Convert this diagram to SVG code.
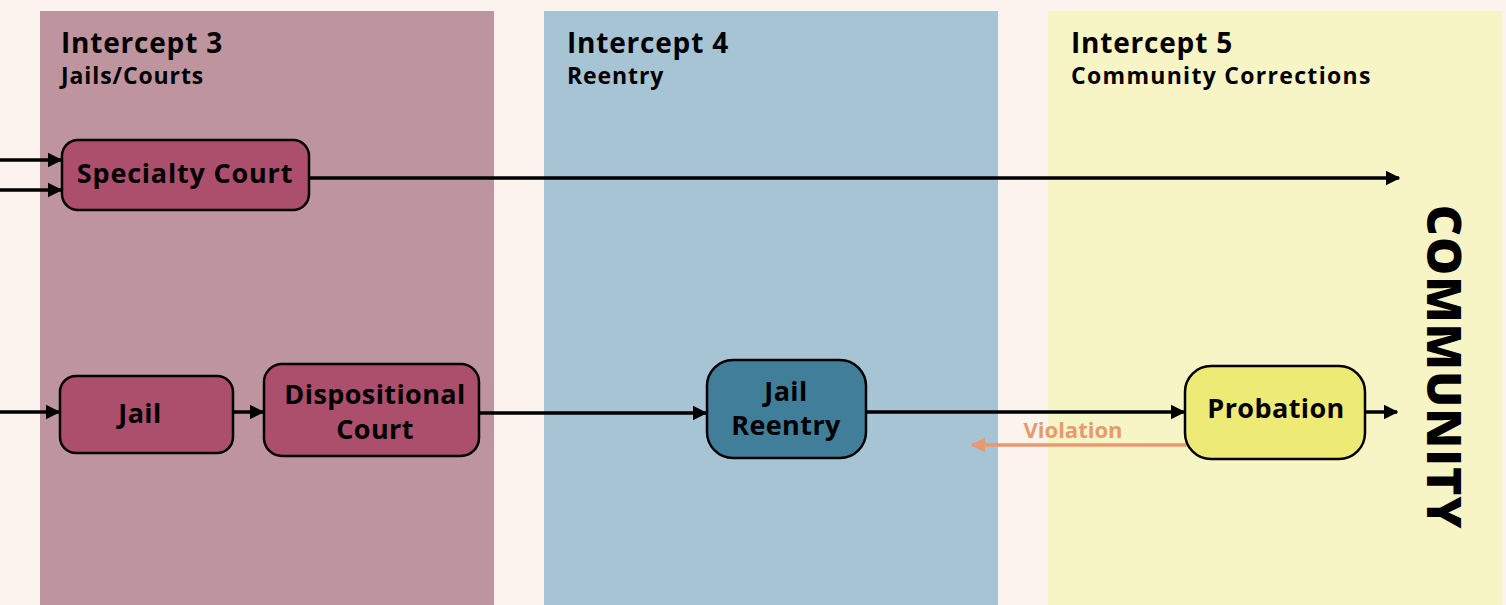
<svg xmlns="http://www.w3.org/2000/svg" width="1506" height="605" viewBox="0 0 1506 605">
  <defs>
    <marker id="ah" viewBox="0 0 10 10" refX="9" refY="5" markerWidth="4.2" markerHeight="4.8" markerUnits="strokeWidth" orient="auto">
      <path d="M0,0 L10,5 L0,10 z" fill="#000"/>
    </marker>
    <marker id="ahv" viewBox="0 0 10 10" refX="9" refY="5" markerWidth="4.2" markerHeight="4.8" markerUnits="strokeWidth" orient="auto">
      <path d="M0,0 L10,5 L0,10 z" fill="#E69A70"/>
    </marker>
  </defs>
  <style>
    text { font-family: "Open Sans", "Lato", "Liberation Sans", sans-serif; font-weight: 700; fill: #000; }
    .h1 { font-size: 28px; letter-spacing: 0.8px; }
    .h2 { font-size: 23px; letter-spacing: 0.9px; }
    .lbl { font-size: 27px; letter-spacing: 0.4px; text-anchor: middle; }
    .node { stroke: #000; stroke-width: 2.5; }
    .conn line { stroke: #000; stroke-width: 3.5; fill: none; }
  </style>

  <rect width="1506" height="605" fill="#FCF3EE"/>

  <!-- intercept bands -->
  <g id="band3">
    <rect x="40" y="11" width="454" height="594" fill="#BE949F"/>
    <text class="h1" x="61" y="53">Intercept 3</text>
    <text class="h2" x="61" y="84">Jails/Courts</text>
  </g>
  <g id="band4">
    <rect x="544" y="11" width="454" height="594" fill="#A7C4D5"/>
    <text class="h1" x="567" y="53">Intercept 4</text>
    <text class="h2" x="567" y="84">Reentry</text>
  </g>
  <g id="band5">
    <rect x="1048" y="11" width="454" height="594" fill="#F7F4C5"/>
    <text class="h1" x="1071" y="53">Intercept 5</text>
    <text class="h2" x="1071" y="84" style="letter-spacing:1.3px">Community Corrections</text>
  </g>

  <!-- connectors -->
  <g id="connectors" class="conn">
    <line x1="0" y1="160" x2="61" y2="160" marker-end="url(#ah)"/>
    <line x1="0" y1="190" x2="61" y2="190" marker-end="url(#ah)"/>
    <line x1="309" y1="178" x2="1399" y2="178" marker-end="url(#ah)"/>
    <line x1="0" y1="412" x2="59" y2="412" marker-end="url(#ah)"/>
    <line x1="233" y1="412" x2="263" y2="412" marker-end="url(#ah)"/>
    <line x1="479" y1="413" x2="706" y2="413" marker-end="url(#ah)"/>
    <line x1="866" y1="412" x2="1184" y2="412" marker-end="url(#ah)"/>
    <line x1="1365" y1="412" x2="1397" y2="412" marker-end="url(#ah)"/>
    <line x1="1188" y1="445" x2="972" y2="445" style="stroke:#E69A70" marker-end="url(#ahv)"/>
    <text x="1073" y="438" style="font-size:22px;fill:#E69A70;text-anchor:middle">Violation</text>
  </g>

  <!-- nodes -->
  <g id="specialty-court">
    <rect class="node" x="62" y="140" width="247" height="70" rx="16" fill="#AB4F6C"/>
    <text class="lbl" x="185" y="183" style="letter-spacing:0.8px">Specialty Court</text>
  </g>
  <g id="jail">
    <rect class="node" x="60" y="376" width="173" height="77" rx="16" fill="#AB4F6C"/>
    <text class="lbl" x="140" y="423">Jail</text>
  </g>
  <g id="dispositional-court">
    <rect class="node" x="264" y="364" width="215" height="92" rx="18" fill="#AB4F6C"/>
    <text class="lbl" x="375" y="404">Dispositional</text>
    <text class="lbl" x="375" y="439">Court</text>
  </g>
  <g id="jail-reentry">
    <rect class="node" x="707" y="360" width="159" height="98" rx="26" fill="#407E99"/>
    <text class="lbl" x="786" y="401">Jail</text>
    <text class="lbl" x="786" y="435">Reentry</text>
  </g>
  <g id="probation">
    <rect class="node" x="1185" y="366" width="180" height="93" rx="26" fill="#EEEA76"/>
    <text class="lbl" x="1276" y="418">Probation</text>
  </g>
  <g id="community">
    <text transform="translate(1427,367) rotate(90)" style="font-size:48px;font-weight:800;letter-spacing:1px;text-anchor:middle">COMMUNITY</text>
  </g>
</svg>
